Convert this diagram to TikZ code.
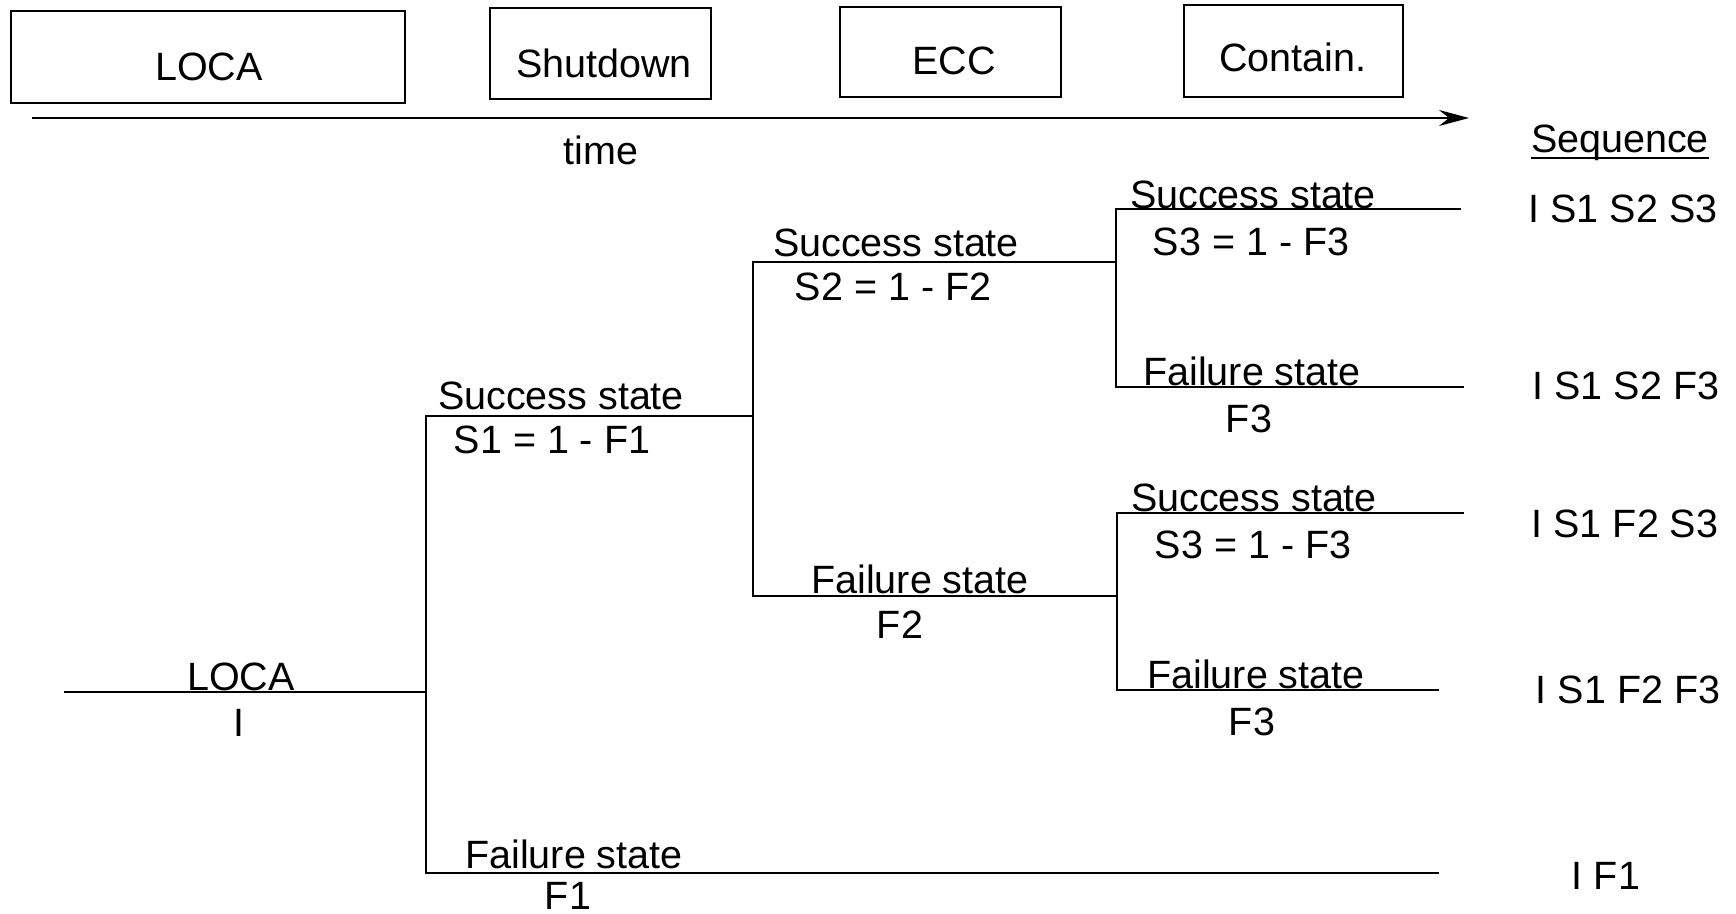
\documentclass[tikz,border=0pt]{standalone}
\usepackage{fontspec}
\setmainfont{Liberation Sans}
\usetikzlibrary{arrows.meta}
\tikzset{
  lbl/.style={inner sep=0pt, anchor=base, font=\fontsize{19.75pt}{24pt}\selectfont},
  phasebox/.style={draw, line width=0.8pt, inner sep=0pt},
  ln/.style={line width=0.8pt},
  axis/.style={line width=0.8pt, -{Stealth[length=15pt,width=8pt,inset=5pt]}}
}
\begin{document}
\begin{tikzpicture}[x=0.5pt,y=-0.5pt]
\useasboundingbox (0,0) rectangle (1736,914);

% phase boxes
\node[phasebox, minimum width=197pt, minimum height=46pt] (bLOCA) at (208,57) {};
\node[phasebox, minimum width=110.5pt, minimum height=45.5pt] (bShut) at (600.5,53.5) {};
\node[phasebox, minimum width=110.5pt, minimum height=45pt] (bECC) at (950.5,52) {};
\node[phasebox, minimum width=109.5pt, minimum height=46pt] (bCont) at (1293.5,51) {};
\node[lbl] (tLOCA) at (209,81) {LOCA};
\node[lbl] (tShut) at (604,78) {Shutdown};
\node[lbl] (tECC) at (954,75) {ECC};
\node[lbl] (tCont) at (1293,72) {Contain.};

% time axis
\coordinate (ax0) at (32,118);
\coordinate (ax1) at (1469,118);
\draw[axis] (ax0) -- (ax1);
\node[lbl] (time) at (601,165) {time};

% sequence header
\node[lbl] (seq) at (1620,153) {Sequence};
\draw[ln] ([yshift=-2.5pt]seq.base west) -- ([yshift=-2.5pt]seq.base east);

% tree coordinates
\coordinate (l0) at (64,692);
\coordinate (n1) at (426,692);
\coordinate (s1a) at (426,416);
\coordinate (s1b) at (753,416);
\coordinate (f1a) at (426,873);
\coordinate (f1b) at (1439,873);
\coordinate (s2a) at (753,262);
\coordinate (s2b) at (1116,262);
\coordinate (f2a) at (753,596);
\coordinate (f2b) at (1117,596);
\coordinate (s3a) at (1116,209);
\coordinate (s3ae) at (1461,209);
\coordinate (f3a) at (1116,387);
\coordinate (f3ae) at (1464,387);
\coordinate (s3b) at (1117,513);
\coordinate (s3be) at (1464,513);
\coordinate (f3b) at (1117,690);
\coordinate (f3be) at (1439,690);

% tree lines
\draw[ln] (l0) -- (n1);
\draw[ln] (s1b) -- (s1a) -- (f1a) -- (f1b);
\draw[ln] (s2b) -- (s2a) -- (f2a) -- (f2b);
\draw[ln] (s3ae) -- (s3a) -- (f3a) -- (f3ae);
\draw[ln] (s3be) -- (s3b) -- (f3b) -- (f3be);

% tree labels
\node[lbl] (lI1) at (241,690) {LOCA};
\node[lbl] (lI2) at (239,736) {I};
\node[lbl] (lS1a) at (561,410) {Success state};
\node[lbl] (lS1b) at (552,454) {S1 = 1 - F1};
\node[lbl] (lF1a) at (574,868) {Failure state};
\node[lbl] (lF1b) at (568,909) {F1};
\node[lbl] (lS2a) at (896,257) {Success state};
\node[lbl] (lS2b) at (893,301) {S2 = 1 - F2};
\node[lbl] (lF2a) at (920,594) {Failure state};
\node[lbl] (lF2b) at (900,639) {F2};
\node[lbl] (lS3a) at (1253,209) {Success state};
\node[lbl] (lS3ab) at (1251,256) {S3 = 1 - F3};
\node[lbl] (lF3a) at (1252,386) {Failure state};
\node[lbl] (lF3ab) at (1249,433) {F3};
\node[lbl] (lS3b) at (1254,512) {Success state};
\node[lbl] (lS3bb) at (1253,559) {S3 = 1 - F3};
\node[lbl] (lF3b) at (1256,689) {Failure state};
\node[lbl] (lF3bb) at (1252,735) {F3};

% sequences
\node[lbl] (q1) at (1623,223) {I S1 S2 S3};
\node[lbl] (q2) at (1626,400) {I S1 S2 F3};
\node[lbl] (q3) at (1625,538) {I S1 F2 S3};
\node[lbl] (q4) at (1628,703) {I S1 F2 F3};
\node[lbl] (q5) at (1606,889) {I F1};
\end{tikzpicture}
\end{document}
